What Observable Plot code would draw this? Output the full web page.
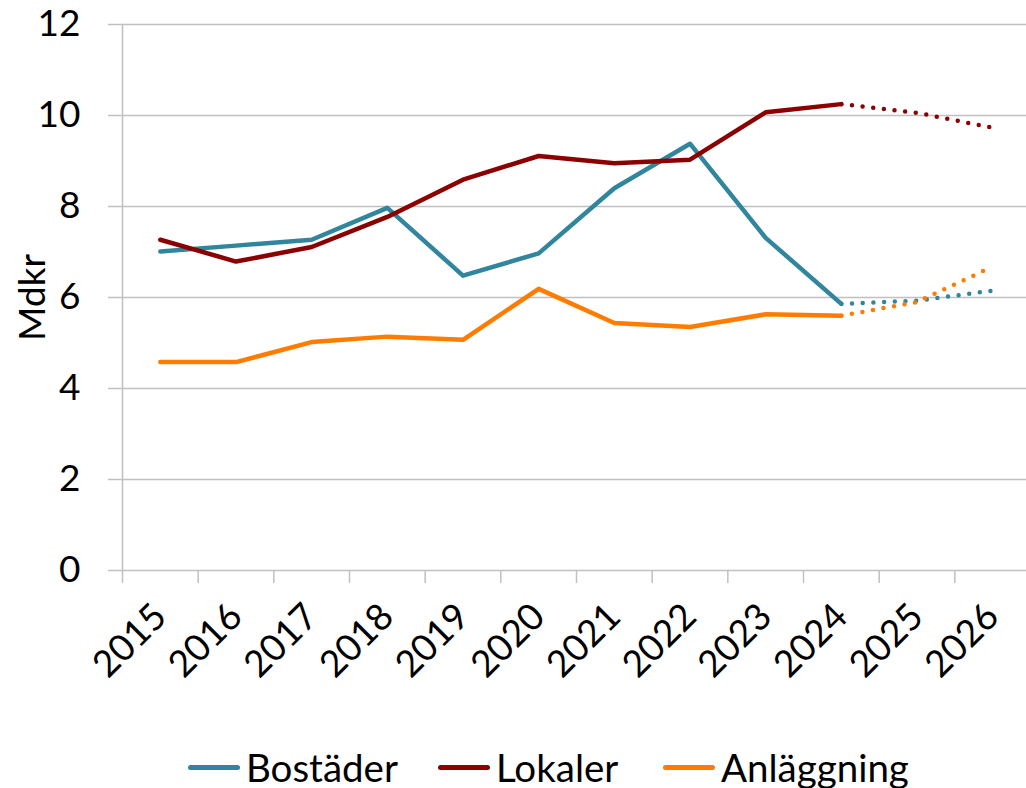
<!DOCTYPE html>
<html><head><meta charset="utf-8">
<script src="https://cdn.jsdelivr.net/npm/d3@7"></script>
<script src="https://cdn.jsdelivr.net/npm/@observablehq/plot@0.6"></script>
<style>
body{margin:0;background:#fff;font-family:Lato,"Open Sans",sans-serif;overflow:hidden;width:1026px;height:788px;position:relative}
#legend{position:absolute;left:188px;top:743px;display:flex;align-items:center;font-size:38.5px;color:#000;line-height:48px}
.item{display:flex;align-items:center}
.sw{width:52px;height:5px;border-radius:3px;margin-right:6px;flex:none}
</style></head><body><div id="chart"></div><div id="legend"></div>
<script>
const years = [2015,2016,2017,2018,2019,2020,2021,2022,2023,2024,2025,2026];
const bostader   = [7.01,7.14,7.27,7.97,6.48,6.97,8.40,9.38,7.31,5.86,5.93,6.15];
const lokaler    = [7.27,6.79,7.11,7.77,8.59,9.11,8.95,9.03,10.07,10.25,10.06,9.73];
const anlaggning = [4.58,4.58,5.02,5.14,5.07,6.19,5.44,5.35,5.63,5.60,5.90,6.68];
const seriesNames = ["Bostäder","Lokaler","Anläggning"];
const seriesColors = ["#31859C","#8B0000","#FF7C00"];
const yTicks = [0,2,4,6,8,10,12];
const lastActual = 2024;

const seriesValues = [bostader, lokaler, anlaggning];
const rows = [];
seriesNames.forEach((s, i) => years.forEach((y, j) => rows.push({year: String(y), yr: y, value: seriesValues[i][j], series: s})));
const actual = rows.filter(d => d.yr <= lastActual);
const forecast = rows.filter(d => d.yr >= lastActual);

const W = 1026, ML = 122, MR = -4;
const step = (W - ML - MR) / years.length;

const chart = Plot.plot({
  width: W, height: 720,
  marginLeft: ML, marginRight: MR, marginTop: 24, marginBottom: 150,
  style: {fontFamily: "Lato, sans-serif", fontSize: "37px", color: "#000", background: "#fff", overflow: "visible"},
  x: {type: "point", domain: years.map(String), padding: 0.5, round: false},
  y: {domain: [0, 12]},
  color: {domain: seriesNames, range: seriesColors},
  marks: [
    Plot.gridY(yTicks, {stroke: "#C0C0C0", strokeOpacity: 1, strokeWidth: 1.5}),
    Plot.frame({anchor: "left", stroke: "#C0C0C0", strokeWidth: 1.5}),
    Plot.axisY(yTicks, {tickSize: 14, tickPadding: 28, stroke: "#C0C0C0", strokeWidth: 1.5, fontSize: 37,
      label: "Mdkr", labelAnchor: "center", labelArrow: "none", labelOffset: 104}),
    Plot.axisX({tickSize: 13, dx: -step / 2, tickFormat: () => "", label: null, stroke: "#C0C0C0", strokeWidth: 1.5}),
    Plot.axisX({tickSize: 0, tickPadding: 40, tickRotate: -45, fontSize: 37, label: null}),
    Plot.line(actual, {x: "year", y: "value", z: "series", stroke: "series", strokeWidth: 4.5, strokeLinecap: "round"}),
    Plot.line(forecast, {x: "year", y: "value", z: "series", stroke: "series", strokeWidth: 4.5, strokeLinecap: "round", strokeDasharray: "0 10.7"})
  ]
});
document.getElementById("chart").appendChild(chart);

const itemWidths = ["250px", "225px", "auto"];
const legend = document.getElementById("legend");
seriesNames.forEach((s, i) => {
  const it = document.createElement("div"); it.className = "item"; it.style.width = itemWidths[i];
  const sw = document.createElement("span"); sw.className = "sw"; sw.style.background = seriesColors[i];
  const tx = document.createElement("span"); tx.textContent = s;
  it.appendChild(sw); it.appendChild(tx); legend.appendChild(it);
});
</script></body></html>
